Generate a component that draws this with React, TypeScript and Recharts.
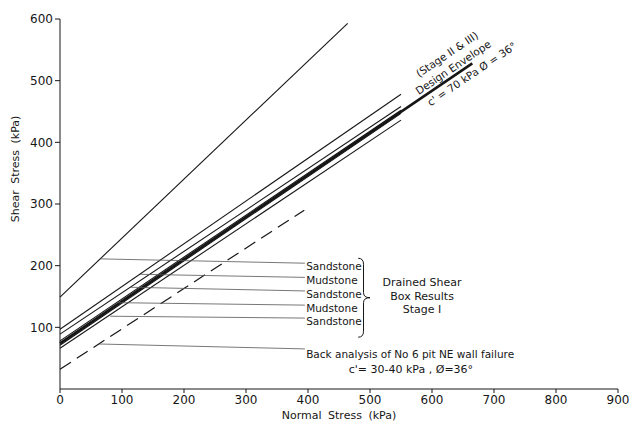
import { LineChart, Line, XAxis, YAxis, ReferenceDot, ReferenceArea } from "recharts";

// failure envelopes, normal stress (x) vs shear stress (y), kPa
const steepLine = [{ x: 0, y: 149 }, { x: 464, y: 593 }];
const sandstoneTop = [{ x: 0, y: 97 }, { x: 550, y: 478 }];
const mudstoneUpper = [{ x: 0, y: 89 }, { x: 550, y: 458 }];
const sandstoneMid = [{ x: 0, y: 78 }, { x: 550, y: 452 }];
const mudstoneLower = [{ x: 0, y: 71 }, { x: 550, y: 447 }];
const sandstoneLow = [{ x: 0, y: 66 }, { x: 550, y: 436 }];
const designEnvelope = [{ x: 0, y: 74 }, { x: 665, y: 528 }];
const backAnalysis = [{ x: 0, y: 32 }, { x: 394, y: 290 }];

// leader lines from each envelope to its label
const leaderNames = ["Sandstone", "Mudstone", "Sandstone", "Mudstone", "Sandstone"];
const leaderStartX = [65, 129, 113, 92, 81];
const leaderStartY = [211, 186, 165, 140, 118];
const leaderEndX = [395, 395, 395, 395, 395];
const leaderEndY = [204, 181, 159, 136, 115];
const backLeader = [{ x: 62, y: 73 }, { x: 395, y: 65 }];

const xTicks = [0, 100, 200, 300, 400, 500, 600, 700, 800, 900];
const yTicks = [100, 200, 300, 400, 500, 600];

const groupLines = ["Drained  Shear", "Box  Results", "Stage  I"];
const groupY = [172, 150, 129];
const envelopeLines = ["(Stage  II & III)", "Design  Envelope", "c' = 70 kPa  Ø = 36°"];
const envelopeX = [624, 634, 664];
const envelopeY = [543, 522, 511];

const FONT = "DejaVu Sans";
const INK = "#161616";

function Note(props: any) {
  const { viewBox, txt, anch = "start", shift = 0, rot = 0, fs = 10.5 } = props;
  if (!viewBox) return null;
  const cx = viewBox.x + (viewBox.width || 0) / 2;
  const cy = viewBox.y + (viewBox.height || 0) / 2;
  return (
    <text
      x={cx}
      y={cy + shift}
      textAnchor={anch}
      dominantBaseline="central"
      fontFamily={FONT}
      fontSize={fs}
      fill={INK}
      transform={rot ? `rotate(${rot}, ${cx}, ${cy})` : undefined}
    >
      {txt}
    </text>
  );
}

function Brace(props: any) {
  const { x, y, width: w, height: h } = props;
  const xm = x + w * 0.45;
  const ym = y + h / 2;
  const d = `M${x},${y} Q${xm},${y} ${xm},${y + 6} L${xm},${ym - 5} Q${xm},${ym} ${x + w},${ym} Q${xm},${ym} ${xm},${ym + 5} L${xm},${y + h - 6} Q${xm},${y + h} ${x},${y + h}`;
  return <path d={d} fill="none" stroke={INK} strokeWidth={1} />;
}

const line = (data: any[], key: string, width = 1.1, dash?: string, color = INK) => (
  <Line
    key={key}
    data={data}
    dataKey="y"
    type="linear"
    stroke={color}
    strokeWidth={width}
    strokeDasharray={dash}
    dot={false}
    activeDot={false}
    isAnimationActive={false}
  />
);

export default function App() {
  const leaders = leaderNames.map((_, i) => [
    { x: leaderStartX[i], y: leaderStartY[i] },
    { x: leaderEndX[i], y: leaderEndY[i] },
  ]);
  const hidden = { r: 1, fill: "none", stroke: "none" };
  return (
    <div style={{ position: "absolute", left: 0, top: 0, background: "#fff" }}>
      <LineChart width={633} height={430} margin={{ top: 19, right: 15, left: 0, bottom: 0 }}>
        <XAxis
          dataKey="x"
          type="number"
          domain={[0, 900]}
          ticks={xTicks}
          allowDuplicatedCategory={false}
          height={41}
          tickSize={4}
          stroke={INK}
          tick={{ fontFamily: FONT, fontSize: 12, fill: INK }}
          label={{
            content: (p: any) => (
              <text
                x={p.viewBox.x + p.viewBox.width / 2}
                y={p.viewBox.y + 30}
                textAnchor="middle"
                fontFamily={FONT}
                fontSize={11}
                fill={INK}
                wordSpacing={3}
              >
                Normal Stress (kPa)
              </text>
            ),
          }}
        />
        <YAxis
          type="number"
          domain={[0, 600]}
          ticks={yTicks}
          width={60}
          tickSize={5}
          stroke={INK}
          tick={{ fontFamily: FONT, fontSize: 12, fill: INK }}
          label={{
            content: (p: any) => {
              const x = p.viewBox.x + 15;
              const y = p.viewBox.y + 150;
              return (
                <text
                  x={x}
                  y={y}
                  textAnchor="middle"
                  dominantBaseline="central"
                  fontFamily={FONT}
                  fontSize={11}
                  fill={INK}
                  wordSpacing={3}
                  transform={`rotate(-90, ${x}, ${y})`}
                >
                  Shear Stress (kPa)
                </text>
              );
            },
          }}
        />
        {line(steepLine, "steep")}
        {line(sandstoneTop, "s1")}
        {line(mudstoneUpper, "m1")}
        {line(sandstoneMid, "s2")}
        {line(mudstoneLower, "m2")}
        {line(sandstoneLow, "s3")}
        {line(designEnvelope, "design", 2.6)}
        {line(backAnalysis, "back", 1.2, "13 7")}
        {leaders.map((d, i) => line(d, `leader${i}`, 0.8, undefined, "#555"))}
        {line(backLeader, "backLeader", 0.8, undefined, "#555")}
        {leaderNames.map((name, i) => (
          <ReferenceDot
            key={`lbl${i}`}
            x={397}
            y={leaderEndY[i]}
            {...hidden}
            label={<Note txt={name} shift={3} />}
          />
        ))}
        <ReferenceArea
          x1={481}
          x2={500}
          y1={84}
          y2={212}
          shape={(p: any) => <Brace {...p} />}
        />
        {groupLines.map((t, i) => (
          <ReferenceDot
            key={`grp${i}`}
            x={584}
            y={groupY[i]}
            {...hidden}
            label={<Note txt={t} anch="middle" fs={11} />}
          />
        ))}
        <ReferenceDot
          x={397}
          y={65}
          {...hidden}
          label={<Note txt="Back  analysis  of  No 6  pit  NE  wall  failure" shift={5} />}
        />
        <ReferenceDot
          x={566}
          y={31}
          {...hidden}
          label={<Note txt="c'= 30-40 kPa ,  Ø=36°" anch="middle" fs={11} />}
        />
        {envelopeLines.map((t, i) => (
          <ReferenceDot
            key={`env${i}`}
            x={envelopeX[i]}
            y={envelopeY[i]}
            {...hidden}
            label={<Note txt={t} anch="middle" rot={-34} fs={10.5} />}
          />
        ))}
      </LineChart>
    </div>
  );
}
